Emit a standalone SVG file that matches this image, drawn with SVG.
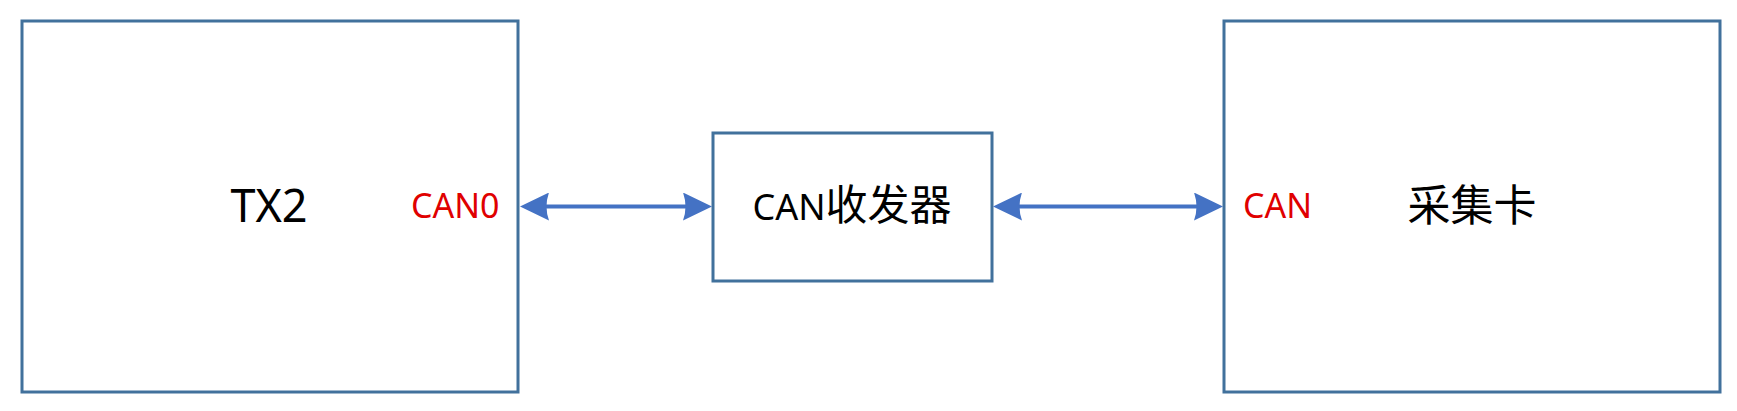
<svg xmlns="http://www.w3.org/2000/svg" width="1737" height="411" viewBox="0 0 1737 411">
<style>
.box{fill:#ffffff;stroke:#41719C;stroke-width:3}
.lbl{font-family:"Noto Sans","Noto Sans CJK SC",sans-serif;fill:#000000;text-anchor:middle}
.cjk{font-family:"Noto Sans CJK SC",sans-serif}
.port{font-family:"Noto Sans","Liberation Sans",sans-serif;fill:#E00000;font-size:34px}
.conn{stroke:#4472C4;stroke-width:4;fill:none;marker-start:url(#ah);marker-end:url(#ah)}
</style>
<defs>
<marker id="ah" markerUnits="userSpaceOnUse" viewBox="0 0 29 28" refX="9" refY="14" markerWidth="29" markerHeight="28" orient="auto-start-reverse">
<path d="M0,0 L29,14 L0,28 Q5,14 0,0 Z" fill="#4472C4"/>
</marker>
</defs>
<rect width="1737" height="411" fill="#ffffff"/>
<g id="tx2">
<rect class="box" x="22" y="21" width="496" height="371"/>
<text class="lbl" x="269" y="222" font-size="45">TX2</text>
<text class="port" x="411" y="218">CAN0</text>
</g>
<g id="transceiver">
<rect class="box" x="713" y="133" width="279" height="148"/>
<text class="lbl" x="852" y="220"><tspan font-size="36">CAN</tspan><tspan class="cjk" font-size="42">收发器</tspan></text>
</g>
<g id="daq">
<rect class="box" x="1224" y="21" width="496" height="371"/>
<text class="port" x="1243" y="218">CAN</text>
<text class="lbl cjk" x="1472" y="221" font-size="43">采集卡</text>
</g>
<g id="connectors">
<line class="conn" x1="540" y1="206.5" x2="692" y2="206.5"/>
<line class="conn" x1="1013" y1="206.5" x2="1203" y2="206.5"/>
</g>
</svg>
